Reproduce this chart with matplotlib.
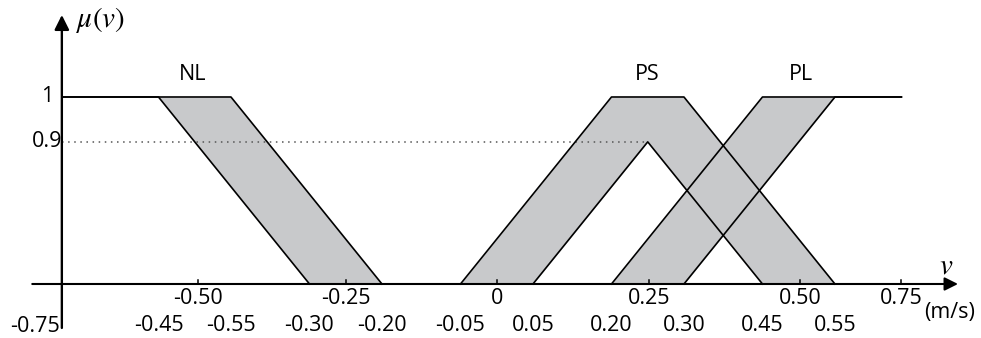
import matplotlib

matplotlib.use("Agg")
import matplotlib.pyplot as plt
import numpy as np

plt.rcParams["font.family"] = ["Open Sans", "DejaVu Sans"]
plt.rcParams["mathtext.fontset"] = "stix"

# breakpoints as drawn (the sketch is schematic, labels below are the nominal values)
nl_upper_x = [-0.72, -0.44, -0.19]
nl_upper_y = [1.0, 1.0, 0.0]
nl_lower_x = [-0.72, -0.56, -0.31]
nl_lower_y = [1.0, 1.0, 0.0]

ps_upper_x = [-0.06, 0.19, 0.31, 0.56]
ps_upper_y = [0.0, 1.0, 1.0, 0.0]
ps_lower_x = [0.06, 0.25, 0.44]
ps_lower_y = [0.0, 0.76, 0.0]

pl_upper_x = [0.19, 0.44, 0.67]
pl_upper_y = [0.0, 1.0, 1.0]
pl_lower_x = [0.31, 0.56, 0.67]
pl_lower_y = [0.0, 1.0, 1.0]

set_names = ["NL", "PS", "PL"]
set_name_x = [-0.504, 0.249, 0.504]

tick_pos = [-0.495, -0.25, 0.0, 0.252, 0.502, 0.669]
tick_labels = ["-0.50", "-0.25", "0", "0.25", "0.50", "0.75"]
break_pos = [-0.56, -0.44, -0.31, -0.19, -0.06, 0.06, 0.19, 0.31, 0.44, 0.56]
break_labels = ["-0.45", "-0.55", "-0.30", "-0.20", "-0.05",
                "0.05", "0.20", "0.30", "0.45", "0.55"]
y_levels = [1.0, 0.76]
y_labels = ["1", "0.9"]

GREY = "#c8c9cb"
FS = 15.5

fig = plt.figure(figsize=(9.81, 3.38), dpi=100)
ax = fig.add_axes([0, 0, 1, 1])
ax.set_xlim(-0.8224, 0.8018)
ax.set_ylim(-0.2888, 1.5187)
ax.axis("off")


def band(ux, uy, lx, ly):
    grid = np.linspace(min(ux[0], lx[0]), max(ux[-1], lx[-1]), 800)
    up = np.interp(grid, ux, uy, left=0, right=0)
    lo = np.interp(grid, lx, ly, left=0, right=0)
    ax.fill_between(grid, lo, up, where=up >= lo, color=GREY, lw=0, zorder=1)
    ax.plot(ux, uy, color="black", lw=1.2, zorder=3)
    ax.plot(lx, ly, color="black", lw=1.2, zorder=3)


band(nl_upper_x, nl_upper_y, nl_lower_x, nl_lower_y)
band(ps_upper_x, ps_upper_y, ps_lower_x, ps_lower_y)
band(pl_upper_x, pl_upper_y, pl_lower_x, pl_lower_y)

# dotted level of the lower PS peak
ax.plot([nl_upper_x[0], ps_lower_x[1]], [y_levels[1], y_levels[1]],
        color="#555555", lw=1.1, ls=(0, (1, 3)), zorder=2)

# axes with arrows
ax.annotate("", xy=(0.7637, 0), xytext=(-0.769, 0),
            arrowprops=dict(arrowstyle="-|>", lw=1.5, color="black",
                            mutation_scale=20, shrinkA=0, shrinkB=0), zorder=4)
ax.annotate("", xy=(-0.72, 1.4385), xytext=(-0.72, -0.235),
            arrowprops=dict(arrowstyle="-|>", lw=1.7, color="black",
                            mutation_scale=22, shrinkA=0, shrinkB=0), zorder=4)

for x, lab in zip(tick_pos, tick_labels):
    ax.plot([x, x], [0, 0.022], color="black", lw=1.1, zorder=4)
    ax.text(x, -0.078, lab, ha="center", va="center", fontsize=FS)

for x, lab in zip(break_pos, break_labels):
    ax.text(x, -0.222, lab, ha="center", va="center", fontsize=FS)

for y, lab in zip(y_levels, y_labels):
    ax.text(-0.7445, y, lab, ha="center", va="center", fontsize=FS)

ax.text(-0.764, -0.228, "-0.75", ha="center", va="center", fontsize=FS)
ax.text(0.749, -0.155, "(m/s)", ha="center", va="center", fontsize=FS)

for x, name in zip(set_name_x, set_names):
    ax.text(x, 1.118, name, ha="center", va="center", fontsize=FS)

ax.text(-0.697, 1.41, r"$\mu(v)$", ha="left", va="center", fontsize=21)
ax.text(0.744, 0.095, r"$v$", ha="center", va="center", fontsize=21)

fig.savefig("out.png", dpi=100)
